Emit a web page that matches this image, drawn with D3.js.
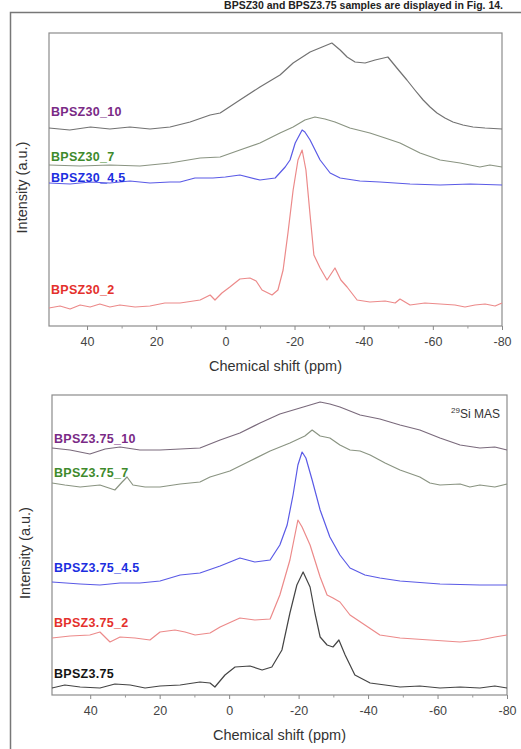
<!DOCTYPE html>
<html><head><meta charset="utf-8">
<script src="https://cdn.jsdelivr.net/npm/d3@7"></script>
<style>body{margin:0;background:#fff}svg{display:block}text{font-family:"Liberation Sans",Arial,sans-serif}</style>
</head><body>
<script>
// ---------- DATA (ppm, intensity a.u.) ----------
const xTicks = [40, 20, 0, -20, -40, -60, -80];
const xTitle = "Chemical shift (ppm)";
const yTitle = "Intensity (a.u.)";

// Top panel: BPSZ30 series
const topNames = ["BPSZ30_10", "BPSZ30_7", "BPSZ30_4.5", "BPSZ30_2"];
const bpsz30_10 = [[51,198],[45,196],[39,199],[33.4,197],[27.6,199],[21.8,197],[16,199],[10.2,204],[4.4,211],[1.5,213],[-4.2,226],[-10,239],[-15.8,251],[-19.6,263],[-24.5,274],[-28,279],[-30.8,283],[-33.2,276],[-35.2,269],[-37.5,264],[-40.4,263],[-43.3,266],[-47,269],[-49.6,258],[-52.5,246],[-54.8,236],[-57.2,226],[-59.2,219],[-61.2,213],[-63.5,208],[-65.8,204],[-68.7,201],[-71.6,199],[-75.1,198],[-80,197]];
const bpsz30_7 = [[51,161],[42,160],[33.4,161],[24.7,160],[16,163],[7.3,168],[1.5,169],[-4.2,176],[-10,183],[-15.8,193],[-19.6,199],[-23,206],[-25.9,209],[-28.8,207],[-31.7,204],[-36,198],[-41.8,193],[-46.2,188],[-50.5,183],[-56.3,173],[-62.1,166],[-67.9,163],[-73.6,159],[-76.5,161],[-80,159]];
const bpsz30_45 = [[51,143],[44.9,142],[39.1,144],[33.4,143],[27.6,145],[21.8,143],[16,144],[13.1,144],[8.8,148],[3.6,148],[0,149],[-4.2,151],[-10,146],[-14.4,148],[-17.3,159],[-18.7,166],[-20.2,183],[-22.2,196],[-23,194],[-24.5,186],[-27.4,166],[-30.3,153],[-33.2,148],[-38.9,145],[-44.7,144],[-53.4,142],[-62.1,141],[-70.8,142],[-80,141]];
const bpsz30_2 = [[51,18],[47.8,20],[44.9,17],[42,21],[39.1,19],[36.3,22],[33.4,19],[30.5,21],[26.1,19],[21.8,20],[17.5,23],[13.1,23],[7.3,26],[4.4,31],[3,26],[1,33],[-1.3,39],[-4.2,47],[-7.1,48],[-8.9,45],[-10.6,36],[-13.5,31],[-15.2,36],[-16.7,56],[-18.1,93],[-19.6,136],[-21,166],[-22.2,176],[-23.3,156],[-24.5,111],[-25.6,71],[-27.4,58],[-29.4,46],[-31.7,58],[-33.4,46],[-35.2,39],[-38.1,26],[-41.8,24],[-46.2,25],[-49.1,23],[-50.5,27],[-53.4,21],[-57.7,23],[-62.1,22],[-66.4,21],[-69.3,19],[-72.2,21],[-75.1,22],[-78,20],[-80,23]];

// Bottom panel: BPSZ3.75 series
const botNames = ["BPSZ3.75_10", "BPSZ3.75_7", "BPSZ3.75_4.5", "BPSZ3.75_2", "BPSZ3.75"];
const bpsz375_10 = [[51,247],[45.8,245],[40.1,241],[35.7,246],[31.4,248],[25.7,245],[19.9,245],[14.1,246],[8.4,247],[2.6,255],[-3.1,262],[-8.9,272],[-14.6,281],[-20.4,287],[-26.2,293],[-29,291],[-31.9,288],[-37.7,280],[-43.4,276],[-49.2,270],[-54.9,265],[-60.7,257],[-66.5,250],[-72.2,247],[-76.5,248],[-80,245]];
const bpsz375_7 = [[51,212],[47.3,210],[42.9,208],[37.2,210],[32.9,205],[30.8,213],[29.4,218],[27.7,210],[24.2,208],[19.9,208],[14.1,211],[8.4,213],[5.5,218],[-0.2,224],[-6,234],[-11.8,244],[-17.5,252],[-21.8,259],[-23.9,265],[-26.2,259],[-29,257],[-31.9,250],[-34.8,245],[-37.7,244],[-40.6,240],[-44.9,232],[-49.2,225],[-54.9,218],[-57.8,212],[-60.7,210],[-66.5,211],[-69.3,208],[-72.2,210],[-76.5,208],[-80,211]];
const bpsz375_45 = [[51,113],[42.9,111],[37.2,110],[31.4,112],[25.7,112],[19.9,114],[14.1,120],[8.4,122],[2.6,129],[-3.1,137],[-7.4,133],[-11.8,135],[-14.6,150],[-16.7,170],[-18.4,200],[-19.8,230],[-21,243],[-22.1,237],[-23.9,215],[-26.2,185],[-29,158],[-31.9,140],[-34.8,127],[-39.1,120],[-43.4,117],[-49.2,114],[-60.7,111],[-72.2,110],[-80,110]];
const bpsz375_2 = [[51,57],[45.8,59],[40.1,60],[37.2,63],[34.3,53],[31.4,58],[27.1,57],[22.8,55],[19.9,63],[15.6,65],[12.7,63],[9.8,60],[5.5,62],[2.6,68],[-3.1,77],[-7.4,75],[-11.8,76],[-14.6,100],[-17.5,135],[-19.8,175],[-21,168],[-23.3,150],[-26.2,118],[-28.2,100],[-29.9,97],[-31.9,93],[-34.8,80],[-39.1,70],[-43.4,60],[-49.2,57],[-57.8,55],[-66.5,53],[-72.2,55],[-76.5,58],[-80,60]];
const bpsz375 = [[51,7],[47.3,10],[42.9,8],[37.2,7],[32.9,11],[28.5,10],[24.2,7],[19.9,9],[14.1,10],[8.4,13],[5.5,12],[4.1,8],[1.2,20],[-1.7,28],[-6,29],[-9.5,25],[-12.3,28],[-15.2,45],[-17.5,82],[-19.5,110],[-21.3,123],[-23.3,108],[-24.7,82],[-26.2,58],[-28.2,50],[-29.9,48],[-31.6,55],[-33.4,40],[-36.2,20],[-40.6,12],[-44.9,10],[-49.2,8],[-54.9,9],[-60.7,7],[-66.5,8],[-72.2,7],[-76.5,9],[-80,7]];

// ---------- STYLE ----------
const W = 521, H = 749;
const labCols = ["#7a2a86", "#3e8a2c", "#1c2ee0", "#e4302c", "#151515"];
const topLineCols = ["#727272", "#8a9482", "#5a5ae6", "#ec8a8a"];
const botLineCols = ["#7a6a7c", "#8a9482", "#5a5ae6", "#ec8a8a", "#444444"];

const svg = d3.select("body").append("svg").attr("width", W).attr("height", H);

// caption fragment above the figure frame
svg.append("text").attr("x", 503).attr("y", 9).attr("text-anchor", "end")
  .attr("font-size", 10.5).attr("font-weight", "bold").attr("fill", "#222")
  .text("BPSZ30 and BPSZ3.75 samples are displayed in Fig. 14.");
// outer frame
svg.append("rect").attr("x", 10.5).attr("y", 12.5).attr("width", 520).attr("height", 760)
  .attr("fill", "none").attr("stroke", "#777").attr("stroke-width", 1.5);

function panel(cfg) {
  const {left, right, top, bottom, yMax, series, names, lcols, labelY} = cfg;
  const x = d3.scaleLinear().domain([51, -80]).range([left, right]);
  const y = d3.scaleLinear().domain([0, yMax]).range([bottom, top]);
  const g = svg.append("g");
  g.append("rect").attr("x", left).attr("y", top).attr("width", right - left).attr("height", bottom - top)
    .attr("fill", "none").attr("stroke", "#8c8c8c").attr("stroke-width", 1.2);
  const ax = g.append("g").attr("transform", `translate(0,${bottom})`)
    .call(d3.axisBottom(x).tickValues(xTicks).tickFormat(d => String(d)).tickSize(4).tickSizeOuter(0));
  ax.select(".domain").remove();
  ax.selectAll("line").attr("stroke", "#888");
  ax.selectAll("text").attr("font-size", 12.5).attr("fill", "#444").attr("dy", "1.05em");
  const minor = g.append("g").attr("transform", `translate(0,${bottom})`)
    .call(d3.axisBottom(x).tickValues([30, 10, -10, -30, -50, -70]).tickFormat("").tickSize(2.5).tickSizeOuter(0));
  minor.select(".domain").remove();
  minor.selectAll("line").attr("stroke", "#999");
  g.append("text").attr("x", (left + right) / 2).attr("y", bottom + 45).attr("text-anchor", "middle")
    .attr("font-size", 14.5).attr("fill", "#333").text(xTitle);
  g.append("text").attr("transform", `translate(${left - 22},${(top + bottom) / 2 + 8}) rotate(-90)`)
    .attr("text-anchor", "middle").attr("font-size", 14.5).attr("fill", "#333").text(yTitle);
  const line = d3.line().x(d => x(d[0])).y(d => y(d[1]));
  series.forEach((s, i) => {
    g.append("path").datum(s).attr("d", line).attr("fill", "none")
      .attr("stroke", lcols[i]).attr("stroke-width", 1.2).attr("stroke-linejoin", "round");
  });
  names.forEach((n, i) => {
    g.append("text").attr("x", left + 2).attr("y", y(labelY[i])).attr("font-size", 12.5)
      .attr("font-weight", "bold").attr("fill", labCols[i]).attr("letter-spacing", "0.3")
      .text(n);
  });
  return {x, y, g};
}

panel({left: 49, right: 502, top: 33, bottom: 326, yMax: 293,
  series: [bpsz30_10, bpsz30_7, bpsz30_45, bpsz30_2], names: topNames,
  lcols: topLineCols, labelY: [210, 165, 144, 32]});

const bp = panel({left: 52, right: 507, top: 395, bottom: 695, yMax: 300,
  series: [bpsz375_10, bpsz375_7, bpsz375_45, bpsz375_2, bpsz375], names: botNames,
  lcols: botLineCols, labelY: [252, 218, 123, 68, 17]});

const ann = bp.g.append("text").attr("x", 500).attr("y", 418).attr("text-anchor", "end")
  .attr("font-size", 12).attr("fill", "#333");
ann.append("tspan").attr("font-size", 8).attr("dy", -5).text("29");
ann.append("tspan").attr("dy", 5).text("Si MAS");
</script>
</body></html>
